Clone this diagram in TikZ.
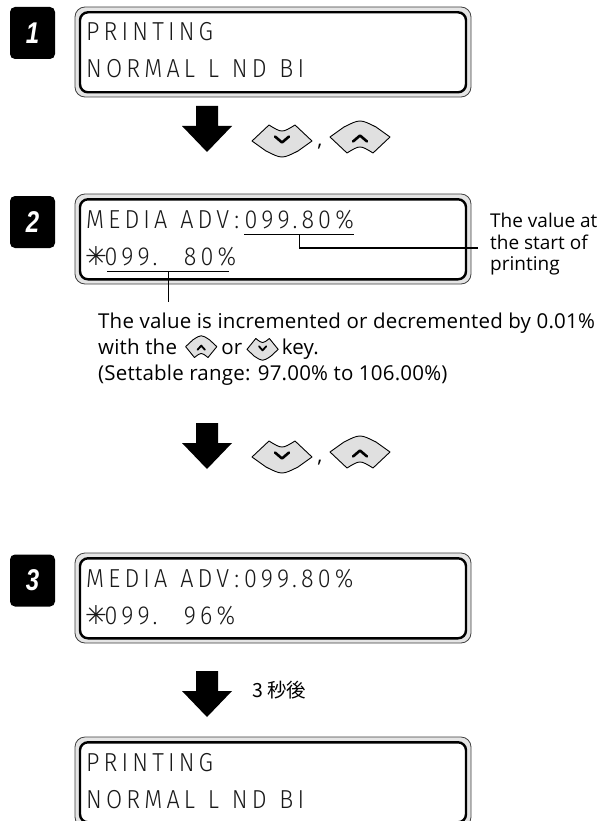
\documentclass[tikz,border=0pt]{standalone}
\usepackage{fontspec}
\usetikzlibrary{calc}
\setmainfont{Open Sans}
\newfontfamily\lcdfont{Fira Sans Light}[FakeStretch=0.9, LetterSpace=16, WordSpace=1.2]
\newfontfamily\notefont{Open Sans}[LetterSpace=1]
\newfontfamily\symfont{DejaVu Sans}
\newfontfamily\cjk{Noto Sans CJK JP}
\newfontfamily\badgefont{Liberation Sans}
\definecolor{keyfill}{gray}{0.88}
\definecolor{bandfill}{gray}{0.90}
\tikzset{
  lcdouter/.style={draw=black!75, line width=0.8pt, fill=bandfill, rounded corners=10pt,
    minimum width=396pt, minimum height=90pt, inner sep=0pt},
  lcdinner/.style={draw=black, line width=2.4pt, fill=white, rounded corners=8pt,
    minimum width=386pt, minimum height=80pt, inner sep=0pt},
  lcdtext/.style={font=\lcdfont\fontsize{26}{26}\selectfont, inner sep=0pt, anchor=base west, text=black!90},
  note/.style={font=\notefont\fontsize{20.5}{24}\selectfont, inner sep=0pt, anchor=base west, text=black},
  side/.style={note, font=\fontsize{19}{22}\selectfont},
  badge/.style={fill=black, rounded corners=5pt, minimum width=45pt, minimum height=52pt,
    text=white, font=\badgefont\bfseries\itshape\fontsize{30}{30}\selectfont, inner sep=0pt},
  leader/.style={line width=1.3pt, black},
  keyshape/.style={draw=black, line width=0.9pt, fill=keyfill, line join=round},
  chevron/.style={line width=2.6pt, line cap=round, line join=round},
  smallkey/.style={xscale=0.52, yscale=0.68},
  fatarrow/.pic={\fill[black] (-11,0) -- (11,0) -- (11,20) -- (25,20) -- (0,46) -- (-25,20) -- (-11,20) -- cycle;},
  downkey/.pic={
    \draw[keyshape] (-30,2) -- (-13,-14) .. controls (0,-6) .. (13,-14) -- (30,2) -- (16,12) .. controls (0,20) .. (-16,12) -- cycle;
    \draw[chevron, line width=\pgfkeysvalueof{/tikz/chevw}] (-7,-2.5) -- (0,3.5) -- (7,-2.5);
  },
  upkey/.pic={
    \draw[keyshape] (-30,-2) -- (-16,-12) .. controls (0,-20) .. (16,-12) -- (30,-2) -- (13,14) .. controls (0,6) .. (-13,14) -- cycle;
    \draw[chevron, line width=\pgfkeysvalueof{/tikz/chevw}] (-7,2.5) -- (0,-3.5) -- (7,2.5);
  },
  chevw/.initial=2.6pt,
}
\begin{document}
\begin{tikzpicture}[x=1pt,y=-1pt]
\useasboundingbox (0,0) rectangle (603,821);
\fill[white] (0,0) rectangle (603,821);
\clip (0,0) rectangle (603,821);

% ---------- step badges
\node[badge] (b1) at (32.5,33) {\raisebox{-3pt}{\scalebox{0.8}[1]{1}}};
\node[badge] (b2) at (32.5,222) {\raisebox{-3pt}{\scalebox{0.8}[1]{2}}};
\node[badge] (b3) at (32.5,580.5) {\raisebox{-3pt}{\scalebox{0.8}[1]{3}}};

% ---------- LCD 1
\node[lcdouter] (box1) at (273,52) {};
\node[lcdinner] (box1in) at (273,52.3) {};
\node[lcdtext] (t1a) at (86,41) {PRINTING};
\node[lcdtext] (t1b) at (86,78) {NORMAL L ND BI};

% ---------- arrow 1 with keys
\pic at (207,106) {fatarrow};
\pic at (282,139) {downkey};
\node[note, anchor=base] (c1) at (320,147) {,};
\pic at (360,139) {upkey};

% ---------- LCD 2
\node[lcdouter] (box2) at (273,239) {};
\node[lcdinner] (box2in) at (273,239.3) {};
\node[lcdtext] (m2a) at (86,228) {MEDIA ADV\kern5pt:\kern5pt};
\node[lcdtext, text depth=6pt] (m2b) at (m2a.base east) {099.80\%};
\node[lcdtext, text width=19pt, align=center] (s2) at (85,265) {\symfont ✳};
\node[lcdtext, text depth=6pt] (v2) at (s2.base east) {099.\hspace{10pt} 80\%};
\draw[leader] (m2b.south west) -- (m2b.south east);
\draw[leader, shorten <=3pt, shorten >=7pt] (v2.south west) -- (v2.south east);

% right label
\node[side] (la1) at (490,227) {The value at};
\node[side] (la2) at (490,249) {the start of};
\node[side] (la3) at (490,270) {printing};
\coordinate (callA) at ($(la2.base west)+(-12,-1)$);
\draw[leader] (m2b.south) |- (callA);

% lower note
\coordinate (callB) at ($(v2.south)+(-2,31)$);
\draw[leader] (v2.south -| callB) -- (callB);
\node[note] (n1) at (98,328) {The value is incremented or decremented by 0.01\%};
\node[note] (n2a) at (98,354) {with the};
\coordinate (ku) at ($(n2a.base east)+(24,-6)$);
\pic[smallkey, chevw=1.8pt] at (ku) {upkey};
\node[note] (n2b) at ($(ku)+(20,6)$) {or};
\coordinate (kd) at ($(n2b.base east)+(20,-6)$);
\pic[smallkey, chevw=1.8pt] at (kd) {downkey};
\node[note] (n2c) at ($(kd)+(19,6)$) {key.};
\node[note] (n3) at (98,380) {(Settable range: 97.00\% to 106.00\%)};

% ---------- arrow 2 with keys
\pic at (207,423) {fatarrow};
\pic at (282,455) {downkey};
\node[note, anchor=base] (c2) at (320,462) {,};
\pic at (360,454) {upkey};

% ---------- LCD 3
\node[lcdouter] (box3) at (273,598) {};
\node[lcdinner] (box3in) at (273,598.3) {};
\node[lcdtext] (m3a) at (86,587) {MEDIA ADV\kern5pt:\kern5pt099.80\%};
\node[lcdtext, text width=19pt, align=center] (s3) at (85,624) {\symfont ✳};
\node[lcdtext] (v3) at (s3.base east) {099.\hspace{10pt} 96\%};

% ---------- arrow 3
\pic at (207,671) {fatarrow};
\node[note, font=\cjk\fontsize{19.5}{22}\selectfont] (wait) at (252,697) {3\hspace{4pt}秒後};

% ---------- LCD 4
\node[lcdouter] (box4) at (273,782) {};
\node[lcdinner] (box4in) at (273,782.3) {};
\node[lcdtext] (t4a) at (86,771) {PRINTING};
\node[lcdtext] (t4b) at (86,808) {NORMAL L ND BI};
\end{tikzpicture}
\end{document}
